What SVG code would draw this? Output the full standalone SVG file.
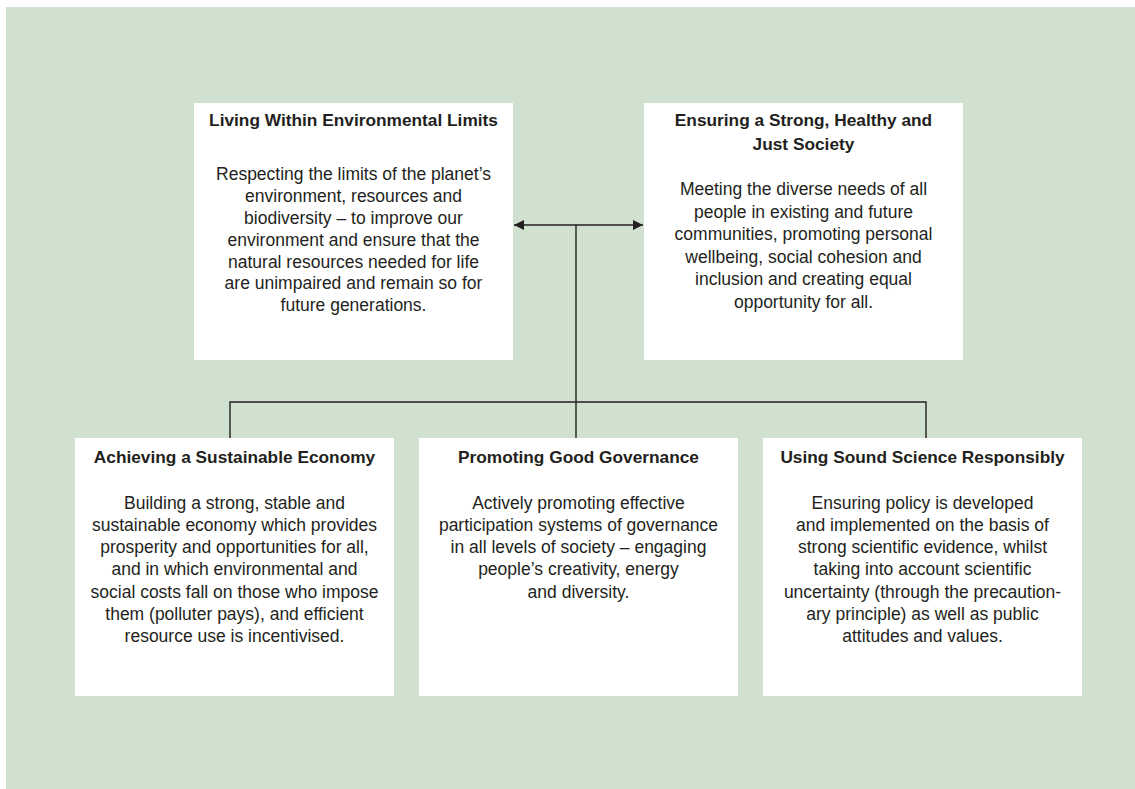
<svg xmlns="http://www.w3.org/2000/svg" width="1135" height="789" viewBox="0 0 1135 789">
<style>
.box{fill:#ffffff}
.t{font-family:"Liberation Sans",Arial,sans-serif;font-size:17.3px;font-weight:bold;fill:#231f20;text-anchor:middle}
.b{font-family:"Liberation Sans",Arial,sans-serif;font-size:17.5px;fill:#231f20;text-anchor:middle}
.c{stroke:#231f20;stroke-width:1.4;fill:none}
</style>
<defs>
<marker id="ah" viewBox="0 0 10 10" refX="10" refY="5" markerWidth="10" markerHeight="10" markerUnits="userSpaceOnUse" orient="auto-start-reverse">
<path d="M0,0 L10,5 L0,10 Z" fill="#231f20"/>
</marker>
</defs>
<rect x="6" y="7" width="1129" height="782" fill="#d1e1d0"/>
<g id="connectors">
<line class="c" x1="514" y1="225" x2="643" y2="225" marker-start="url(#ah)" marker-end="url(#ah)"/>
<line class="c" x1="576" y1="225" x2="576" y2="438"/>
<polyline class="c" points="230,438 230,402 926,402 926,438"/>
</g>
<g id="n1">
<rect class="box" x="194" y="103" width="319" height="257"/>
<text class="t" x="353.5" y="126">Living Within Environmental Limits</text>
<text class="b" x="353.5" y="180">Respecting the limits of the planet’s</text>
<text class="b" x="353.5" y="202">environment, resources and</text>
<text class="b" x="353.5" y="224">biodiversity – to improve our</text>
<text class="b" x="353.5" y="246">environment and ensure that the</text>
<text class="b" x="353.5" y="267.5">natural resources needed for life</text>
<text class="b" x="353.5" y="289">are unimpaired and remain so for</text>
<text class="b" x="353.5" y="311">future generations.</text>
</g>
<g id="n2">
<rect class="box" x="644" y="103" width="319" height="257"/>
<text class="t" x="803.5" y="126">Ensuring a Strong, Healthy and</text>
<text class="t" x="803.5" y="150">Just Society</text>
<text class="b" x="803.5" y="195">Meeting the diverse needs of all</text>
<text class="b" x="803.5" y="217.5">people in existing and future</text>
<text class="b" x="803.5" y="240">communities, promoting personal</text>
<text class="b" x="803.5" y="262.5">wellbeing, social cohesion and</text>
<text class="b" x="803.5" y="285">inclusion and creating equal</text>
<text class="b" x="803.5" y="307.5">opportunity for all.</text>
</g>
<g id="n3">
<rect class="box" x="75" y="438" width="319" height="258"/>
<text class="t" x="234.5" y="463">Achieving a Sustainable Economy</text>
<text class="b" x="234.5" y="508.5">Building a strong, stable and</text>
<text class="b" x="234.5" y="530.5">sustainable economy which provides</text>
<text class="b" x="234.5" y="553">prosperity and opportunities for all,</text>
<text class="b" x="234.5" y="575">and in which environmental and</text>
<text class="b" x="234.5" y="597.5">social costs fall on those who impose</text>
<text class="b" x="234.5" y="619.5">them (polluter pays), and efficient</text>
<text class="b" x="234.5" y="641.5">resource use is incentivised.</text>
</g>
<g id="n4">
<rect class="box" x="419" y="438" width="319" height="258"/>
<text class="t" x="578.5" y="463">Promoting Good Governance</text>
<text class="b" x="578.5" y="508.5">Actively promoting effective</text>
<text class="b" x="578.5" y="530.5">participation systems of governance</text>
<text class="b" x="578.5" y="553">in all levels of society – engaging</text>
<text class="b" x="578.5" y="575">people’s creativity, energy</text>
<text class="b" x="578.5" y="597.5">and diversity.</text>
</g>
<g id="n5">
<rect class="box" x="763" y="438" width="319" height="258"/>
<text class="t" x="922.5" y="463">Using Sound Science Responsibly</text>
<text class="b" x="922.5" y="508.5">Ensuring policy is developed</text>
<text class="b" x="922.5" y="530.5">and implemented on the basis of</text>
<text class="b" x="922.5" y="553">strong scientific evidence, whilst</text>
<text class="b" x="922.5" y="575">taking into account scientific</text>
<text class="b" x="922.5" y="597.5">uncertainty (through the precaution-</text>
<text class="b" x="922.5" y="619.5">ary principle) as well as public</text>
<text class="b" x="922.5" y="641.5">attitudes and values.</text>
</g>
</svg>
